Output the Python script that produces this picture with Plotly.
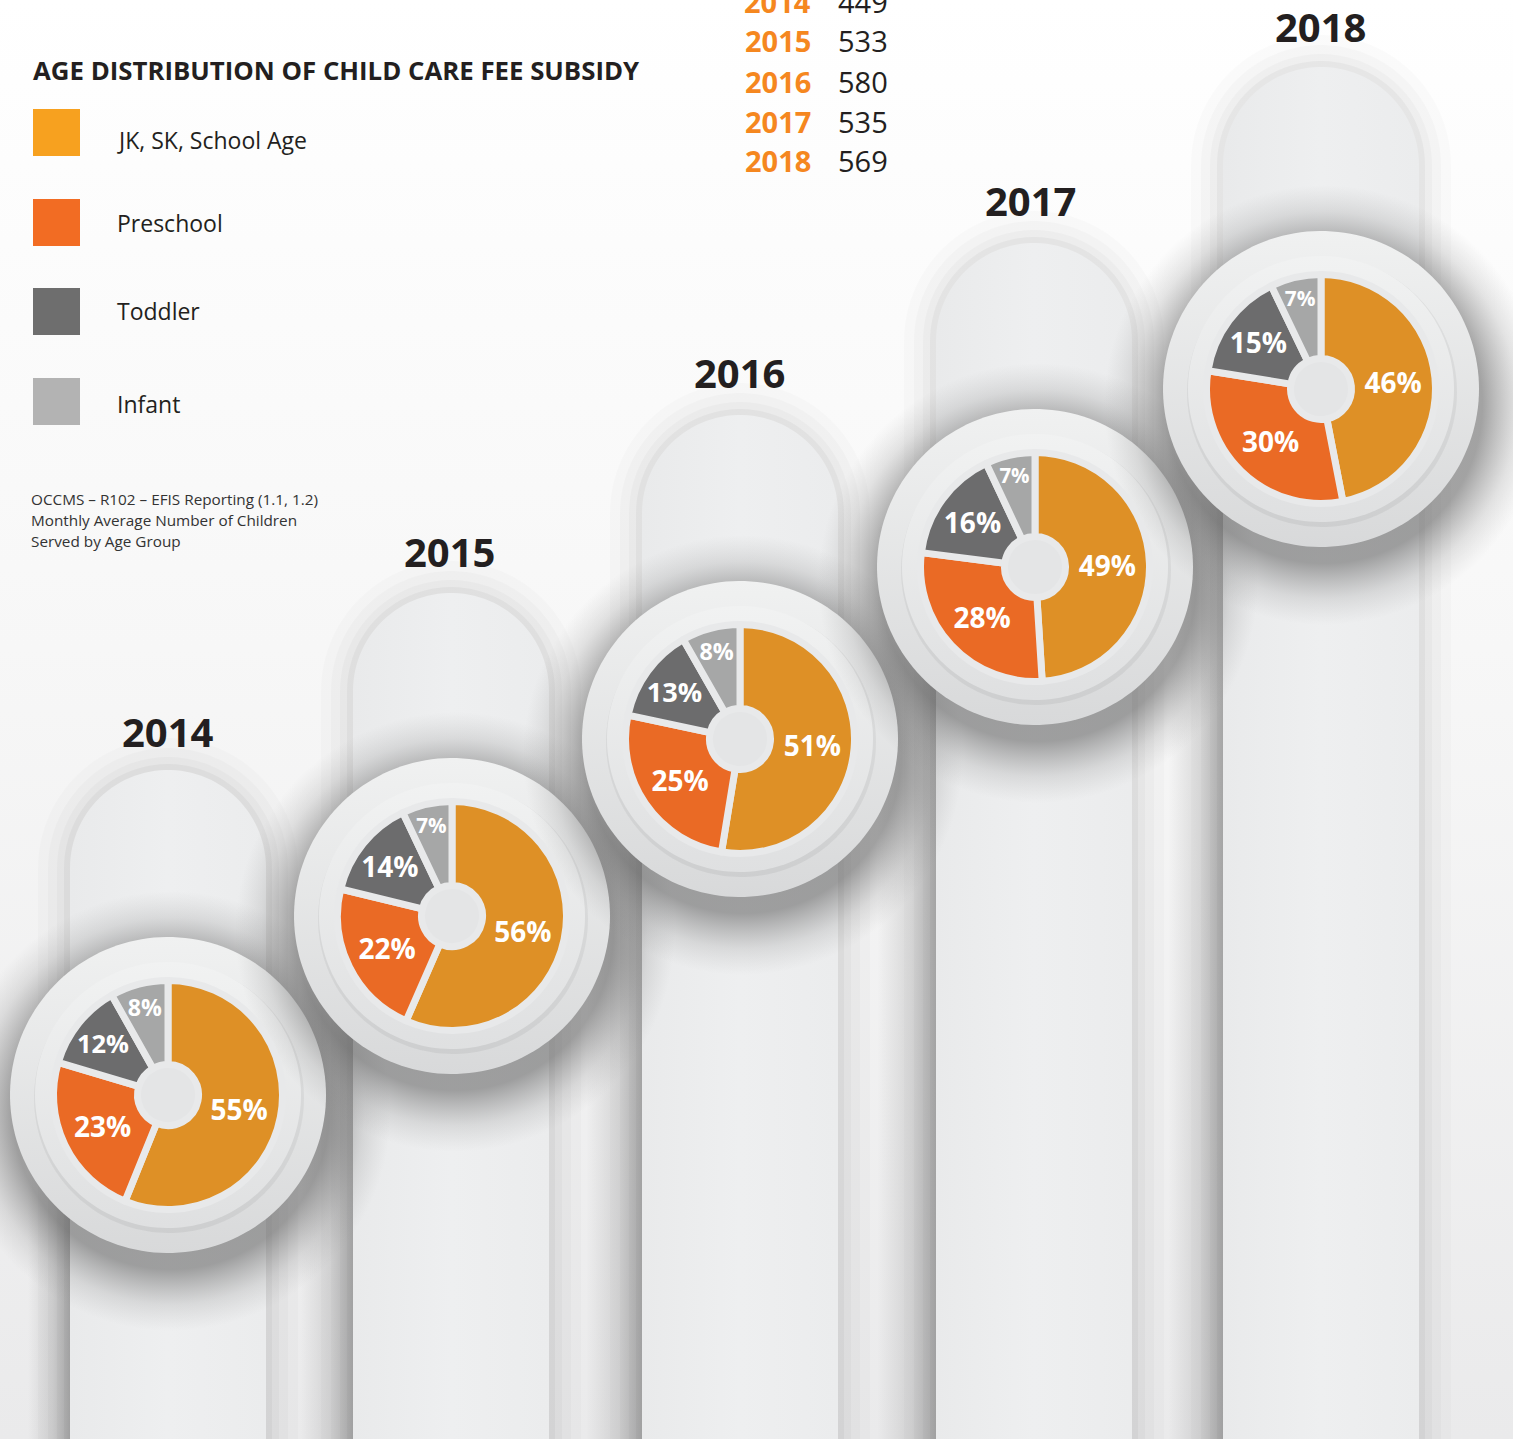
import numpy as np
import plotly.graph_objects as go

W, H = 1513, 1439

# ---------------- data ----------------
years = ["2014", "2015", "2016", "2017", "2018"]
totals = [449, 533, 580, 535, 569]
categories = ["JK, SK, School Age", "Preschool", "Toddler", "Infant"]
jk_school_age = [55, 56, 51, 49, 46]
preschool = [23, 22, 25, 28, 30]
toddler = [12, 14, 13, 16, 15]
infant = [8, 7, 8, 7, 7]

title_text = "AGE DISTRIBUTION OF CHILD CARE FEE SUBSIDY"
source_lines = ["OCCMS – R102 – EFIS Reporting (1.1, 1.2)",
                "Monthly Average Number of Children",
                "Served by Age Group"]

# ---------------- styles / layout positions (pixels) ----------------
slice_colors = ["#DE9026", "#EA6A25", "#6C6C6D", "#A6A7A7"]
legend_colors = ["#F7A11F", "#F26C23", "#6E6E6E", "#B3B3B3"]
TXT = "#231F20"
ORANGE_TXT = "#F5871F"
FONT = "Open Sans"

pie_cx = [168, 452, 740, 1035, 1321]
pie_cy = [1095, 916, 739, 567, 389]
pie_vis_r = 111
line_w = 7
ring_r = 133
halo_r = 158
pillar_x0 = [70, 353, 642, 936, 1223]
pillar_top = [770, 593, 415, 243, 67]
pillar_w = 196
year_lab_x = [168, 449, 739, 1030, 1320]
year_lab_y = [731, 551, 372, 201, 27]
legend_sq_y = [109, 199, 288, 378]
legend_txt_y = [140, 223, 311, 404]


def px(x):
    return x / W


def py(y):
    return 1 - y / H


def pill_xy(x0, x1, ytop, ybot, n=60):
    r = (x1 - x0) / 2.0
    cx = (x0 + x1) / 2.0
    yc = ytop + r
    t = np.linspace(np.pi, 0, n)
    xs = [x0] + list(cx + r * np.cos(t)) + [x1, x0]
    ys = [ybot] + list(yc - r * np.sin(t)) + [ybot, ybot]
    return xs, ys


def circle_xy(cx, cy, r, n=160):
    t = np.linspace(0, 2 * np.pi, n)
    return list(cx + r * np.cos(t)), list(cy + r * np.sin(t))


fig = go.Figure()


def deco(xs, ys, color=None, gradient=None):
    kw = dict(x=xs, y=ys, mode="none", fill="toself", hoverinfo="skip",
              showlegend=False)
    if gradient is not None:
        kw["fillgradient"] = gradient
        kw["fillcolor"] = "rgba(0,0,0,0)"
    else:
        kw["fillcolor"] = color
    fig.add_trace(go.Scatter(**kw))


# overall background tone: white at the top, light grey at the bottom
deco([0, W, W, 0, 0], [0, 0, H, H, 0],
     gradient=dict(type="vertical", start=0, stop=H,
                   colorscale=[[0, "#FFFFFF"], [0.45, "#F7F7F7"], [1, "#EAEAEB"]]))

# glow around each pillar dome
for x0, yt in zip(pillar_x0, pillar_top):
    for g, a in [(32, 0.015), (22, 0.02), (13, 0.025), (6, 0.035)]:
        xs, ys = pill_xy(x0 - g, x0 + pillar_w + g, yt - g, H + 20)
        deco(xs, ys, color=f"rgba(0,0,0,{a})")

# shadow in the gap to the left of each pillar (transparent -> grey toward the pillar)
for k, (x0, cy) in enumerate(zip(pillar_x0, pie_cy)):
    left = 0 if k == 0 else pillar_x0[k - 1] + pillar_w
    xs = [left, x0, x0, left, left]
    ys = [cy - 40, cy - 40, H + 20, H + 20, cy - 40]
    deco(xs, ys, gradient=dict(type="horizontal", start=left, stop=x0,
                               colorscale=[[0, "rgba(120,120,120,0.0)"],
                                           [0.4, "rgba(120,120,120,0.0)"],
                                           [0.75, "rgba(120,120,120,0.22)"],
                                           [1, "rgba(105,105,105,0.48)"]]))

# pillars
for x0, yt in zip(pillar_x0, pillar_top):
    xs, ys = pill_xy(x0, x0 + pillar_w, yt, H + 20)
    deco(xs, ys, gradient=dict(type="horizontal", start=x0, stop=x0 + pillar_w,
                               colorscale=[[0, "#E9EAEB"], [0.5, "#EEEFF0"], [1, "#EBECED"]]))

# soft shadow below each donut, halo and ring
for cx, cy in zip(pie_cx, pie_cy):
    xs, ys = circle_xy(cx + 3, cy + 16, halo_r + 62)
    deco(xs, ys, gradient=dict(type="radial",
                               colorscale=[[0, "rgba(100,100,100,0.6)"],
                                           [0.72, "rgba(100,100,100,0.58)"],
                                           [0.78, "rgba(105,105,105,0.42)"],
                                           [0.88, "rgba(120,120,120,0.18)"],
                                           [1, "rgba(140,140,140,0)"]]))
    xs, ys = circle_xy(cx, cy, halo_r)
    deco(xs, ys, gradient=dict(type="vertical", start=cy - halo_r, stop=cy + halo_r,
                               colorscale=[[0, "#F0F1F1"], [1, "#D8D9DA"]]))
    xs, ys = circle_xy(cx + 1, cy + 3, ring_r + 2)
    deco(xs, ys, color="rgba(0,0,0,0.05)")
    xs, ys = circle_xy(cx, cy, ring_r)
    deco(xs, ys, gradient=dict(type="vertical", start=cy - ring_r, stop=cy + ring_r,
                               colorscale=[[0, "#F1F2F2"], [1, "#DFE0E1"]]))
    xs, ys = circle_xy(cx, cy, 40)
    deco(xs, ys, color="#E4E5E6")

# donuts
dom_r = pie_vis_r + line_w / 2.0
hole = (34 - line_w / 2.0) / dom_r
for i, yr in enumerate(years):
    cx, cy = pie_cx[i], pie_cy[i]
    vals = [jk_school_age[i], preschool[i], toddler[i], infant[i]]
    fig.add_trace(go.Pie(
        values=vals,
        labels=categories,
        name=yr,
        sort=False,
        direction="clockwise",
        rotation=0,
        hole=hole,
        marker=dict(colors=slice_colors, line=dict(color="#E8E9EA", width=line_w)),
        texttemplate="%{value}%",
        textposition="inside",
        insidetextorientation="horizontal",
        textfont=dict(family=FONT, size=28, color="white", weight="bold"),
        hovertemplate="%{label}: %{value}%<extra>" + yr + "</extra>",
        showlegend=False,
        domain=dict(x=[px(cx - dom_r), px(cx + dom_r)],
                    y=[py(cy + dom_r), py(cy - dom_r)]),
    ))

# legend squares
shapes = []
for yq, col in zip(legend_sq_y, legend_colors):
    shapes.append(dict(type="rect", xref="paper", yref="paper", layer="above",
                       x0=px(33), x1=px(80), y0=py(yq + 47), y1=py(yq),
                       fillcolor=col, line=dict(width=0)))

annotations = []
annotations.append(dict(text=title_text, x=px(31), y=py(70), xref="paper", yref="paper",
                        xanchor="left", yanchor="middle", showarrow=False,
                        font=dict(family=FONT, size=25.8, color=TXT, weight="bold")))
for cat, yt in zip(categories, legend_txt_y):
    annotations.append(dict(text=cat, x=px(115), y=py(yt), xref="paper", yref="paper",
                            xanchor="left", yanchor="middle", showarrow=False,
                            font=dict(family=FONT, size=23, color=TXT)))
for j, line in enumerate(source_lines):
    annotations.append(dict(text=line, x=px(29), y=py(499 + 21 * j), xref="paper", yref="paper",
                            xanchor="left", yanchor="middle", showarrow=False,
                            font=dict(family=FONT, size=15.3, color="#333333")))
for j, (yr, tot) in enumerate(zip(years, totals)):
    yy = 1 + 40 * j
    annotations.append(dict(text=yr, x=px(813), y=py(yy), xref="paper", yref="paper",
                            xanchor="right", yanchor="middle", showarrow=False,
                            font=dict(family=FONT, size=29, color=ORANGE_TXT, weight="bold")))
    annotations.append(dict(text=str(tot), x=px(836), y=py(yy), xref="paper", yref="paper",
                            xanchor="left", yanchor="middle", showarrow=False,
                            font=dict(family=FONT, size=29, color=TXT)))
for yr, xl, yl in zip(years, year_lab_x, year_lab_y):
    annotations.append(dict(text=yr, x=px(xl), y=py(yl), xref="paper", yref="paper",
                            xanchor="center", yanchor="middle", showarrow=False,
                            font=dict(family=FONT, size=40, color=TXT, weight="bold")))

fig.update_layout(
    width=W, height=H,
    margin=dict(l=0, r=0, t=0, b=0),
    paper_bgcolor="#FFFFFF",
    plot_bgcolor="rgba(0,0,0,0)",
    shapes=shapes,
    annotations=annotations,
    showlegend=False,
    xaxis=dict(range=[0, W], visible=False, fixedrange=True, domain=[0, 1]),
    yaxis=dict(range=[H, 0], visible=False, fixedrange=True, domain=[0, 1]),
)

fig.write_html("out.html", config={"displayModeBar": False},
               post_script="document.body.style.margin='0';document.body.style.overflow='hidden';")
